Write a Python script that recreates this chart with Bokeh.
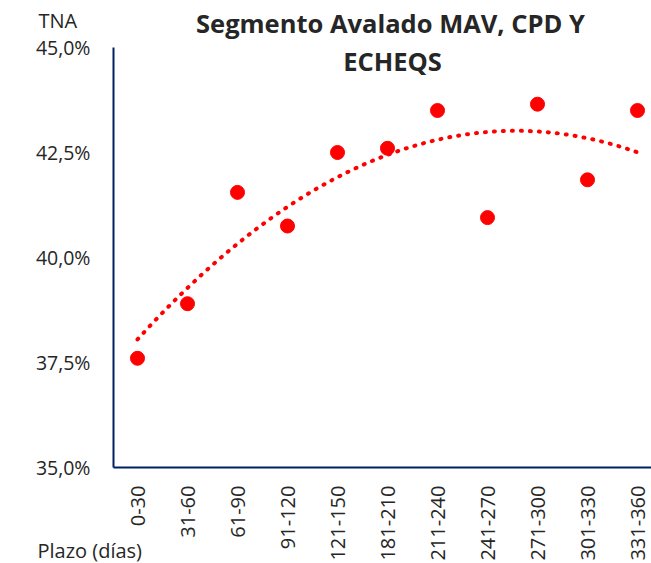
import numpy as np
from bokeh.plotting import figure
from bokeh.models import Range1d, FixedTicker, Label, Title
from bokeh.embed import file_html
from bokeh.resources import INLINE

# ---- data ----
categories = ["0-30", "31-60", "61-90", "91-120", "121-150", "181-210",
              "211-240", "241-270", "271-300", "301-330", "331-360"]
tna = [37.6, 38.9, 41.55, 40.75, 42.5, 42.6, 43.5, 40.95, 43.65, 41.85, 43.5]
y_ticks = [35.0, 37.5, 40.0, 42.5, 45.0]
y_tick_labels = ["35,0%", "37,5%", "40,0%", "42,5%", "45,0%"]
title_lines = ["Segmento Avalado MAV, CPD Y", "ECHEQS"]
y_title = "TNA"
x_title = "Plazo (días)"

FONT = "Open Sans"
AXIS = "#002060"
RED = "#FF0000"
TXT = "#262626"

xs = list(range(len(categories)))

p = figure(width=651, height=563, output_backend="svg", toolbar_location=None,
           x_range=Range1d(-0.48, 10.28), y_range=Range1d(35, 46.119),
           min_border_left=113, min_border_right=0, min_border_top=0,
           min_border_bottom=96)
p.outline_line_color = None
p.grid.visible = False
p.background_fill_color = "white"
p.border_fill_color = "white"

# polynomial (order 2) trendline from the data
coef = np.polyfit(xs, tna, 2)
tx = np.linspace(0, len(categories) - 1, 200)
ty = np.polyval(coef, tx)
p.line(tx, ty, line_color=RED, line_width=4, line_dash="1 8", line_cap="round")

p.scatter(xs, tna, size=14, fill_color=RED, line_color=RED)

# y axis
p.yaxis.ticker = FixedTicker(ticks=y_ticks)
p.yaxis.bounds = (y_ticks[0], y_ticks[-1])
p.yaxis.major_label_overrides = {t: l for t, l in zip(y_ticks, y_tick_labels)}
p.yaxis.axis_line_color = AXIS
p.yaxis.axis_line_width = 2
p.yaxis.major_tick_line_color = None
p.yaxis.major_tick_out = 0
p.yaxis.minor_tick_line_color = None
p.yaxis.major_label_text_font = FONT
p.yaxis.major_label_text_font_size = "19.5px"
p.yaxis.major_label_text_color = TXT
p.yaxis.major_label_standoff = 23

# x axis
p.xaxis.ticker = FixedTicker(ticks=xs)
p.xaxis.major_label_overrides = {i: c for i, c in zip(xs, categories)}
p.xaxis.major_label_orientation = np.pi / 2
p.xaxis.axis_line_color = AXIS
p.xaxis.axis_line_width = 2
p.xaxis.major_tick_line_color = None
p.xaxis.major_tick_out = 0
p.xaxis.minor_tick_line_color = None
p.xaxis.major_label_text_font = FONT
p.xaxis.major_label_text_font_size = "20px"
p.xaxis.major_label_text_color = TXT
p.xaxis.major_label_standoff = 18

# title (inside the frame, above the y-range top)
p.add_layout(Label(x=5.06, y=45.58, text=title_lines[0], text_align="center",
                   text_baseline="middle", text_font=FONT, text_font_style="bold",
                   text_font_size="25.5px", text_color=TXT))
p.add_layout(Label(x=5.10, y=44.69, text=title_lines[1], text_align="center",
                   text_baseline="middle", text_font=FONT, text_font_style="bold",
                   text_font_size="25.5px", text_color=TXT))

# axis titles as side-panel titles (negative standoff keeps them from taking space)
p.add_layout(Title(text=y_title, align="left", offset=-75, standoff=-66,
                   vertical_align="bottom", text_font=FONT, text_font_size="20px",
                   text_font_style="normal", text_color=TXT), "above")
p.add_layout(Title(text=x_title, align="left", offset=-76, standoff=-53,
                   vertical_align="top", text_font=FONT, text_font_size="20px",
                   text_font_style="normal", text_color=TXT), "below")

open("out.html", "w").write(file_html(p, INLINE))
